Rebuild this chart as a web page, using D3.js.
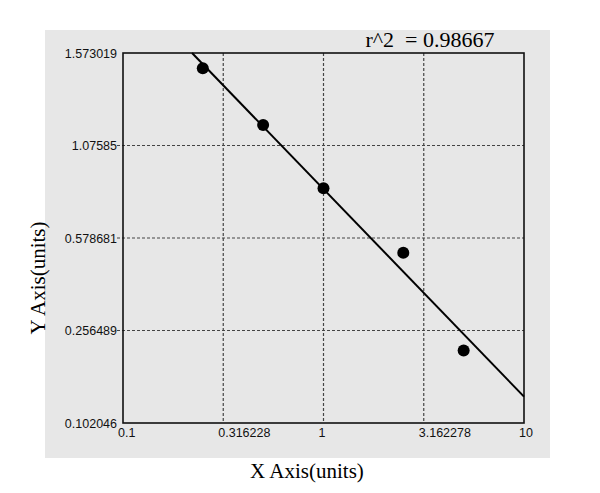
<!DOCTYPE html>
<html>
<head>
    <meta charset="utf-8">
    <title>Standard curve</title>
    <script src="https://d3js.org/d3.v7.min.js"></script>
    <style>
        body { margin: 0; background: #fff; }
    </style>
</head>
<body>
    <svg id="canvas"></svg>
    <script>
        // data
        var xTicks = [0.1, 0.316228, 1, 3.162278, 10];
        var xTickLabels = ["0.1", "0.316228", "1", "3.162278", "10"];
        var yTicks = [0.102046, 0.256489, 0.578681, 1.07585, 1.573019];
        var yTickLabels = ["0.102046", "0.256489", "0.578681", "1.07585", "1.573019"];
        var pointX = [0.25, 0.5, 1, 2.5, 5];
        var pointY = [1.491, 1.186, 0.846, 0.527, 0.223];
        var fitX = [0.221, 10];
        var fitY = [1.573019, 0.146];
        var rSquared = "r^2  = 0.98667";

        var width = 600, height = 493;
        var margin = { left: 123, top: 53, right: 76, bottom: 70 };
        var plotW = width - margin.left - margin.right;
        var plotH = height - margin.top - margin.bottom;

        var svg = d3.select("#canvas")
            .attr("width", width)
            .attr("height", height);

        // grey panel
        svg.append("rect")
            .attr("x", 45).attr("y", 30)
            .attr("width", 505).attr("height", 428)
            .attr("fill", "#e7e7e7");

        var x = d3.scaleLog().domain([0.1, 10]).range([0, plotW]);
        // y ticks are evenly placed, so use a piecewise scale
        var y = d3.scaleLinear()
            .domain(yTicks)
            .range(yTicks.map(function (d, i) { return plotH - i * plotH / (yTicks.length - 1); }));

        var g = svg.append("g")
            .attr("transform", "translate(" + margin.left + "," + margin.top + ")");

        // grid
        g.selectAll(".vgrid")
            .data(xTicks.slice(1, -1))
            .enter().append("line")
            .attr("x1", function (d) { return x(d); })
            .attr("x2", function (d) { return x(d); })
            .attr("y1", 0).attr("y2", plotH)
            .attr("stroke", "#444").attr("stroke-width", 1.2)
            .attr("stroke-dasharray", "3,2");

        g.selectAll(".hgrid")
            .data(yTicks.slice(1, -1))
            .enter().append("line")
            .attr("y1", function (d) { return y(d); })
            .attr("y2", function (d) { return y(d); })
            .attr("x1", -6).attr("x2", plotW)
            .attr("stroke", "#444").attr("stroke-width", 1.2)
            .attr("stroke-dasharray", "3,2");

        // frame
        g.append("rect")
            .attr("width", plotW).attr("height", plotH)
            .attr("fill", "none")
            .attr("stroke", "#111").attr("stroke-width", 1.6);

        // tick labels
        g.selectAll(".xlab")
            .data(xTicks)
            .enter().append("text")
            .attr("x", function (d) { return x(d) - 5; })
            .attr("y", plotH + 14)
            .attr("font-family", "Liberation Sans, Arial, sans-serif")
            .attr("font-size", 12.5)
            .attr("fill", "#111")
            .text(function (d, i) { return xTickLabels[i]; });

        g.selectAll(".ylab")
            .data(yTicks)
            .enter().append("text")
            .attr("x", -6)
            .attr("y", function (d) { return y(d) + 4.5; })
            .attr("text-anchor", "end")
            .attr("font-family", "Liberation Sans, Arial, sans-serif")
            .attr("font-size", 12.5)
            .attr("fill", "#111")
            .text(function (d, i) { return yTickLabels[i]; });

        // fitted line
        g.append("line")
            .attr("x1", x(fitX[0])).attr("y1", y(fitY[0]))
            .attr("x2", x(fitX[1])).attr("y2", y(fitY[1]))
            .attr("stroke", "#000").attr("stroke-width", 2);

        // points
        g.selectAll(".pt")
            .data(pointX)
            .enter().append("circle")
            .attr("cx", function (d) { return x(d); })
            .attr("cy", function (d, i) { return y(pointY[i]); })
            .attr("r", 6)
            .attr("fill", "#000");

        // titles
        svg.append("text")
            .attr("x", 430).attr("y", 47)
            .attr("text-anchor", "middle")
            .style("white-space", "pre")
            .attr("font-family", "Liberation Serif, Times New Roman, serif")
            .attr("font-size", 22)
            .text(rSquared);

        svg.append("text")
            .attr("x", 307).attr("y", 478)
            .attr("text-anchor", "middle")
            .attr("font-family", "Liberation Serif, Times New Roman, serif")
            .attr("font-size", 21)
            .text("X Axis(units)");

        svg.append("text")
            .attr("transform", "translate(45,278) rotate(-90)")
            .attr("text-anchor", "middle")
            .attr("font-family", "Liberation Serif, Times New Roman, serif")
            .attr("font-size", 21)
            .text("Y Axis(units)");
    </script>
</body>
</html>
